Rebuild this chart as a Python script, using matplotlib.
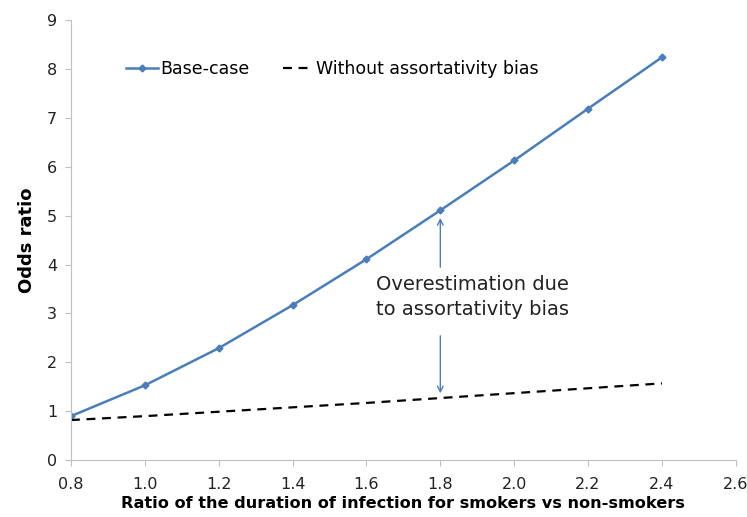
import numpy as np
import matplotlib
matplotlib.use('Agg')
import matplotlib.pyplot as plt

ratio = [0.8, 1.0, 1.2, 1.4, 1.6, 1.8, 2.0, 2.2, 2.4]
base_case = [0.90, 1.53, 2.29, 3.17, 4.11, 5.11, 6.13, 7.19, 8.24]
no_bias = [0.82, 0.90, 0.99, 1.08, 1.17, 1.27, 1.37, 1.47, 1.57]

blue = '#4a7ebb'

fig = plt.figure(figsize=(7.47, 5.17), dpi=100)
ax = fig.add_axes([0.095, 0.110, 0.890, 0.851])

ax.plot(ratio, base_case, color=blue, lw=1.8, marker='D', ms=3.5, label='Base-case')
ax.plot(ratio, no_bias, color='black', lw=1.6, ls=(0, (4, 3)),
        label='Without assortativity bias')

ax.set_xlim(0.8, 2.6)
ax.set_ylim(0, 9)
ax.set_xticks(np.arange(0.8, 2.61, 0.2))
ax.set_xticklabels(['%.1f' % v for v in np.arange(0.8, 2.61, 0.2)])
ax.set_yticks(range(10))

for s in ['top', 'right']:
    ax.spines[s].set_visible(False)
for s in ['left', 'bottom']:
    ax.spines[s].set_color('#bfbfbf')
ax.tick_params(colors='#bfbfbf', labelcolor='#222222', labelsize=11.5, length=4)
ax.tick_params(axis='x', pad=8)
ax.tick_params(axis='y', pad=6)

ax.set_xlabel('Ratio of the duration of infection for smokers vs non-smokers',
              fontsize=11.6, fontweight='bold', labelpad=3)
ax.set_ylabel('Odds ratio', fontsize=13, fontweight='bold', labelpad=8)

ax.legend(loc='upper left', bbox_to_anchor=(0.06, 0.945), ncol=2, frameon=False,
          fontsize=12.5, handlelength=1.8, handletextpad=0.15, columnspacing=1.9)

ax.text(1.625, 3.34, 'Overestimation due\nto assortativity bias', fontsize=14,
        ha='left', va='center', color='#222222', linespacing=1.4)
arrow = dict(arrowstyle='->', color=blue, lw=1.0)
ax.annotate('', xy=(1.8, 5.01), xytext=(1.8, 3.89), arrowprops=arrow)
ax.annotate('', xy=(1.8, 1.31), xytext=(1.8, 2.6), arrowprops=arrow)

fig.savefig('out.png', dpi=100)
